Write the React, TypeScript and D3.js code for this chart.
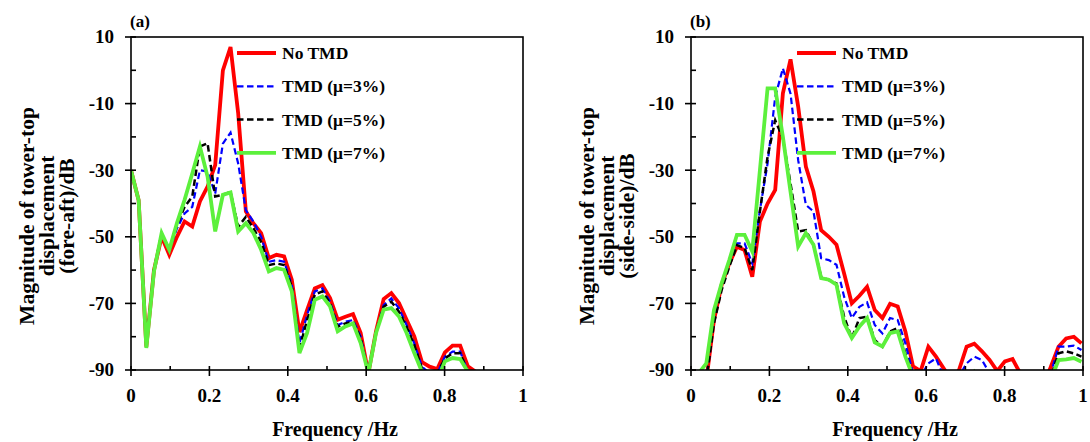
import React from 'react';
import * as d3 from 'd3';

// Frequency grid (Hz)
const freq = [0, 0.0195, 0.0391, 0.0586, 0.0781, 0.0977, 0.1172, 0.1367, 0.1563, 0.1758, 0.1953, 0.2148, 0.2344, 0.2539, 0.2734, 0.2930, 0.3125, 0.3320, 0.3516, 0.3711, 0.3906, 0.4102, 0.4297, 0.4492, 0.4688, 0.4883, 0.5078, 0.5273, 0.5469, 0.5664, 0.5859, 0.6055, 0.6250, 0.6445, 0.6641, 0.6836, 0.7031, 0.7227, 0.7422, 0.7617, 0.7813, 0.8008, 0.8203, 0.8398, 0.8594, 0.8789, 0.8984, 0.9180, 0.9375, 0.9570, 0.9766, 0.9961];

const seriesNames = ['No TMD', 'TMD (\u03bc=3%)', 'TMD (\u03bc=5%)', 'TMD (\u03bc=7%)'];

// Panel (a) fore-aft
const aNoTMD = [-30, -39, -83, -60, -50, -55.4, -50, -45.4, -46.9, -39.4, -34.9, -28.5, 0, 7, -12.9, -42.4, -46, -48.9, -56.4, -55.4, -55.9, -62.9, -78.6, -72, -65.5, -64.5, -68.4, -74.9, -74, -73.2, -78.9, -91, -78.4, -68.7, -66.9, -69.9, -74.9, -79.9, -87.6, -89, -89.7, -84.7, -82.7, -82.7, -88.9, -90.5, -95, -95, -95, -95, -95, -95];
const aMu3 = [-30, -39, -83, -60, -49, -54.2, -47.5, -43, -41, -30, -30.4, -37, -22, -18.7, -28, -42, -45.5, -50, -57.5, -57, -57.5, -64.5, -82, -73.5, -66.4, -65.5, -69.5, -76.5, -75.5, -75, -80, -91, -79, -70.5, -68.5, -71.5, -76.5, -82, -89, -91, -91, -86, -84.5, -84.5, -90.5, -95, -95, -95, -95, -95, -95, -95];
const aMu5 = [-30, -39, -83, -60, -49, -54, -46.5, -41, -37.9, -22.9, -21.9, -37.9, -37.4, -36.5, -47, -44, -47.5, -51.5, -58.5, -58, -58.5, -65, -83.5, -75, -67.4, -66.4, -70, -77, -76, -75.5, -80.5, -91, -78.5, -71, -69.5, -72.5, -77, -82.5, -89.5, -91, -91, -86.5, -85, -85, -90.5, -95, -95, -95, -95, -95, -95, -95];
const aMu7 = [-30, -39, -83.4, -60.4, -48.9, -53.9, -45.9, -38.9, -31, -22.9, -31.9, -48.4, -37.4, -36.7, -48.4, -45.9, -48.9, -53.9, -60.4, -59.4, -59.9, -66.4, -84.9, -78.9, -68.9, -67.9, -70.9, -78.4, -76.9, -76, -81.9, -91, -78.9, -71.9, -71.4, -73.9, -78.9, -84.9, -90.5, -93, -93, -87.4, -86.4, -86.7, -90.5, -95, -95, -95, -95, -95, -95, -95];

// Panel (b) side-side
const bNoTMD = [-100, -100, -93, -75, -64.5, -58, -53, -54, -62, -45.4, -40, -35.9, -6.9, 3.3, -10.9, -28.9, -36.4, -48, -50, -52.4, -61, -70, -67.7, -65, -72, -74.4, -70.1, -70.9, -78.4, -88.9, -90.3, -83, -86, -89.5, -93, -90, -83, -82.1, -84.4, -87, -90.3, -87.4, -86.7, -91, -95, -95, -95, -89, -83, -80.5, -80, -82];
const bMu3 = [-100, -100, -93, -75, -65, -58, -52, -52, -58, -42, -28, -8, 0.6, -7, -27, -40.4, -42.4, -56.4, -57, -58.4, -68, -74.4, -71, -69.7, -76.5, -79, -74.4, -75, -82, -91, -92, -88, -86.5, -92, -95, -92, -88, -86, -87, -91, -93, -91, -92, -95, -95, -95, -95, -91, -83, -83, -82.7, -84];
const bMu5 = [-100, -100, -93, -76, -66, -59, -52.5, -53.4, -60, -42.4, -26, -15, -20.4, -34, -48.4, -48, -52.4, -62, -63, -64, -74, -80.4, -74.4, -74, -81, -83, -78.4, -77.4, -85, -92, -95, -95, -95, -95, -95, -95, -93, -91, -93, -95, -95, -95, -95, -95, -95, -95, -95, -92, -85, -84.4, -85, -86];
const bMu7 = [-100, -91, -88, -72, -64, -57, -49.4, -49.4, -54.4, -30, -5.4, -5.4, -20, -36.5, -52.9, -48.9, -52.4, -62.4, -62.9, -64.4, -75.9, -80.4, -76.9, -74.4, -81.7, -82.9, -78.9, -78.4, -86, -92, -95, -95, -95, -95, -95, -95, -93, -90.5, -93, -95, -95, -95, -95, -95, -95, -95, -95, -93, -87, -86.8, -86.4, -87.5];

const xTickLabels = [0, 0.2, 0.4, 0.6, 0.8, 1];
const xMinorTicks = [0.1, 0.3, 0.5, 0.7, 0.9];
const yTickLabels = [10, -10, -30, -50, -70, -90];
const yMinorTicks = [0, -20, -40, -60, -80];

const styles = [
  { color: '#ff0000', width: 3.8, dash: '' },
  { color: '#0000ff', width: 2.2, dash: '6.5,3.5' },
  { color: '#000000', width: 2.5, dash: '6.5,3.5' },
  { color: '#5cf03c', width: 3.8, dash: '' },
];

const FONT = '"Liberation Serif", "Times New Roman", serif';

type PanelProps = {
  id: string;
  x0: number;
  label: string;
  yTitle: string[];
  data: number[][];
};

function Panel({ id, x0, label, yTitle, data }: PanelProps) {
  const x1 = x0 + 392;
  const y0 = 37;
  const y1 = 370;
  const x = d3.scaleLinear().domain([0, 1]).range([x0, x1]);
  const y = d3.scaleLinear().domain([-90, 10]).range([y1, y0]);
  const line = d3.line<number>().x((_, i) => x(freq[i])).y((d) => y(d));
  const order = [0, 1, 2, 3];
  const legX = x0 + 106;
  return (
    <g fontFamily={FONT} fontWeight="bold">
      <defs>
        <clipPath id={`clip-${id}`}>
          <rect x={x0} y={y0} width={x1 - x0} height={y1 - y0} />
        </clipPath>
      </defs>
      <g clipPath={`url(#clip-${id})`}>
        {order.map((si) => (
          <path key={si} d={line(data[si]) || ''} fill="none" stroke={styles[si].color} strokeWidth={styles[si].width} strokeDasharray={styles[si].dash} strokeLinejoin="miter" />
        ))}
      </g>
      {/* frame */}
      <rect x={x0} y={y0} width={x1 - x0} height={y1 - y0} fill="none" stroke="#000" strokeWidth={1.6} />
      {/* y ticks */}
      {yTickLabels.map((v) => (
        <g key={'yt' + v}>
          <line x1={x0 - 6} x2={x0 + 5} y1={y(v)} y2={y(v)} stroke="#000" strokeWidth={1.6} />
          <text x={x0 - 17} y={y(v)} dy="0.34em" textAnchor="end" fontSize={19}>{v}</text>
        </g>
      ))}
      {yMinorTicks.map((v) => (
        <line key={'ym' + v} x1={x0} x2={x0 + 5} y1={y(v)} y2={y(v)} stroke="#000" strokeWidth={1.6} />
      ))}
      {/* x ticks */}
      {xTickLabels.map((v) => (
        <g key={'xt' + v}>
          <line x1={x(v)} x2={x(v)} y1={y1 - 4} y2={y1 + 6} stroke="#000" strokeWidth={1.6} />
          <text x={x(v)} y={401.5} textAnchor="middle" fontSize={19}>{v}</text>
        </g>
      ))}
      {xMinorTicks.map((v) => (
        <line key={'xm' + v} x1={x(v)} x2={x(v)} y1={y1 - 4} y2={y1} stroke="#000" strokeWidth={1.6} />
      ))}
      {/* axis titles */}
      <text x={(x0 + x1) / 2 + 8} y={436} textAnchor="middle" fontSize={20}>Frequency /Hz</text>
      {yTitle.map((t, i) => (
        <text key={t} transform={`translate(${x0 - 104 + i * 20},216) rotate(-90)`} textAnchor="middle" dominantBaseline="central" fontSize={21.5}>{t}</text>
      ))}
      <text x={x0 - 1} y={27} fontSize={17}>{label}</text>
      {/* legend */}
      {seriesNames.map((n, i) => (
        <g key={n}>
          <line x1={legX} x2={legX + 39} y1={53 + i * 33.3} y2={53 + i * 33.3} stroke={styles[i].color} strokeWidth={styles[i].width} strokeDasharray={styles[i].dash} />
          <text x={legX + 45} y={53 + i * 33.3} dy="0.34em" fontSize={17.5}>{n}</text>
        </g>
      ))}
    </g>
  );
}

export default function App() {
  return (
    <svg width={1090} height={442} style={{ position: 'absolute', left: 0, top: 0, background: '#fff' }}>
      <rect width={1090} height={442} fill="#fff" />
      <Panel id="a" x0={131} label="(a)" yTitle={['Magnitude of tower-top', 'displacement', '(fore-aft)/dB']} data={[aNoTMD, aMu3, aMu5, aMu7]} />
      <Panel id="b" x0={691} label="(b)" yTitle={['Magnitude of tower-top', 'displacement', '(side-side)/dB']} data={[bNoTMD, bMu3, bMu5, bMu7]} />
    </svg>
  );
}
